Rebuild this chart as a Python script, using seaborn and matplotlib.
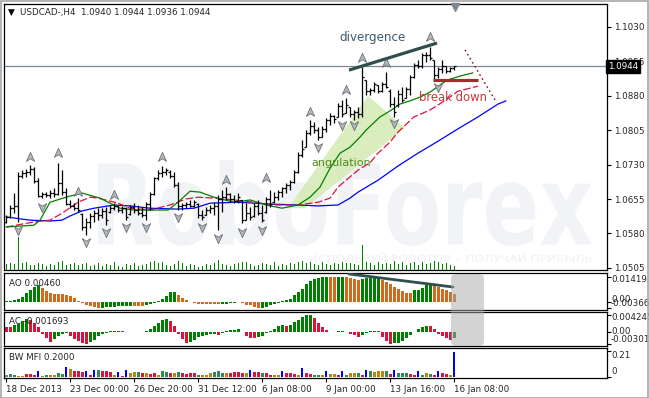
import numpy as np
import matplotlib
matplotlib.use("Agg")
import matplotlib.pyplot as plt
import seaborn as sns
from matplotlib.path import Path
from matplotlib.patches import Polygon, FancyBboxPatch, PathPatch, Rectangle
from matplotlib.textpath import TextPath
from matplotlib.font_manager import FontProperties
from matplotlib.transforms import Affine2D, blended_transform_factory

sns.set_style("white")
plt.rcParams['font.family'] = ['DejaVu Sans']

# ---------------- data (USDCAD H4) ----------------
open_ = [1.0605, 1.0615, 1.0635, 1.0640, 1.0705, 1.0712, 1.0715, 1.0720, 1.0695, 1.0662,
         1.0665, 1.0663, 1.0668, 1.0665, 1.0690, 1.0670, 1.0645, 1.0640, 1.0636, 1.0622,
         1.0595, 1.0605, 1.0618, 1.0625, 1.0620, 1.0628, 1.0626, 1.0636, 1.0640, 1.0632,
         1.0636, 1.0622, 1.0638, 1.0630, 1.0625, 1.0620, 1.0645, 1.0665, 1.0700, 1.0712,
         1.0715, 1.0715, 1.0705, 1.0685, 1.0640, 1.0642, 1.0645, 1.0640, 1.0645, 1.0620,
         1.0620, 1.0630, 1.0635, 1.0640, 1.0655, 1.0660, 1.0665, 1.0655, 1.0650, 1.0653,
         1.0610, 1.0625, 1.0618, 1.0640, 1.0625, 1.0626, 1.0655, 1.0648, 1.0660, 1.0670,
         1.0678, 1.0685, 1.0692, 1.0715, 1.0752, 1.0768, 1.0800, 1.0815, 1.0805, 1.0790,
         1.0808, 1.0828, 1.0835, 1.0834, 1.0858, 1.0843, 1.0856, 1.0840, 1.0845, 1.0840,
         1.0914, 1.0890, 1.0893, 1.0903, 1.0890, 1.0905, 1.0890, 1.0862, 1.0860, 1.0885,
         1.0875, 1.0895, 1.0920, 1.0948, 1.0945, 1.0968, 1.0970, 1.0958, 1.0925, 1.0938,
         1.0945, 1.0935, 1.0940]
high = [1.0620, 1.0642, 1.0668, 1.0714, 1.0718, 1.0721, 1.0729, 1.0725, 1.0701, 1.0670,
        1.0670, 1.0675, 1.0679, 1.0734, 1.0718, 1.0679, 1.0653, 1.0646, 1.0657, 1.0624,
        1.0614, 1.0624, 1.0631, 1.0635, 1.0635, 1.0638, 1.0642, 1.0646, 1.0642, 1.0640,
        1.0638, 1.0642, 1.0646, 1.0642, 1.0638, 1.0648, 1.0670, 1.0703, 1.0718, 1.0727,
        1.0723, 1.0718, 1.0714, 1.0692, 1.0646, 1.0648, 1.0653, 1.0653, 1.0646, 1.0631,
        1.0638, 1.0642, 1.0648, 1.0664, 1.0675, 1.0681, 1.0668, 1.0664, 1.0668, 1.0653,
        1.0646, 1.0638, 1.0646, 1.0653, 1.0642, 1.0659, 1.0675, 1.0670, 1.0675, 1.0681,
        1.0690, 1.0696, 1.0718, 1.0757, 1.0784, 1.0805, 1.0827, 1.0823, 1.0812, 1.0814,
        1.0832, 1.0843, 1.0838, 1.0864, 1.0871, 1.0875, 1.0856, 1.0849, 1.0856, 1.0943,
        1.0914, 1.0897, 1.0910, 1.0903, 1.0910, 1.0932, 1.0895, 1.0877, 1.0893, 1.0899,
        1.0899, 1.0925, 1.0952, 1.0958, 1.0973, 1.0975, 1.0986, 1.0958, 1.0943, 1.0958,
        1.0945, 1.0943, 1.0944]
low = [1.0603, 1.0614, 1.0624, 1.0605, 1.0701, 1.0703, 1.0707, 1.0690, 1.0659, 1.0657,
       1.0659, 1.0657, 1.0659, 1.0664, 1.0664, 1.0642, 1.0635, 1.0631, 1.0627, 1.0587,
       1.0577, 1.0592, 1.0605, 1.0609, 1.0614, 1.0598, 1.0624, 1.0631, 1.0627, 1.0624,
       1.0609, 1.0620, 1.0624, 1.0620, 1.0616, 1.0609, 1.0631, 1.0664, 1.0696, 1.0703,
       1.0707, 1.0701, 1.0681, 1.0631, 1.0631, 1.0635, 1.0638, 1.0638, 1.0614, 1.0609,
       1.0620, 1.0624, 1.0620, 1.0587, 1.0627, 1.0653, 1.0648, 1.0646, 1.0646, 1.0603,
       1.0609, 1.0609, 1.0616, 1.0620, 1.0605, 1.0624, 1.0638, 1.0646, 1.0653, 1.0659,
       1.0668, 1.0675, 1.0690, 1.0712, 1.0747, 1.0768, 1.0794, 1.0799, 1.0784, 1.0790,
       1.0801, 1.0816, 1.0821, 1.0834, 1.0834, 1.0843, 1.0834, 1.0827, 1.0832, 1.0834,
       1.0882, 1.0882, 1.0888, 1.0886, 1.0888, 1.0897, 1.0856, 1.0834, 1.0856, 1.0866,
       1.0875, 1.0882, 1.0919, 1.0941, 1.0941, 1.0954, 1.0958, 1.0914, 1.0919, 1.0930,
       1.0930, 1.0932, 1.0936]
close = [1.0615, 1.0635, 1.0640, 1.0705, 1.0712, 1.0715, 1.0720, 1.0695, 1.0662, 1.0665,
         1.0663, 1.0668, 1.0665, 1.0690, 1.0670, 1.0645, 1.0640, 1.0636, 1.0630, 1.0595,
         1.0605, 1.0618, 1.0625, 1.0620, 1.0628, 1.0610, 1.0636, 1.0640, 1.0632, 1.0636,
         1.0615, 1.0638, 1.0630, 1.0625, 1.0620, 1.0645, 1.0665, 1.0700, 1.0712, 1.0715,
         1.0718, 1.0705, 1.0685, 1.0640, 1.0642, 1.0645, 1.0640, 1.0648, 1.0620, 1.0615,
         1.0630, 1.0635, 1.0640, 1.0655, 1.0660, 1.0665, 1.0655, 1.0650, 1.0660, 1.0610,
         1.0625, 1.0615, 1.0640, 1.0625, 1.0610, 1.0655, 1.0645, 1.0660, 1.0670, 1.0678,
         1.0685, 1.0692, 1.0715, 1.0752, 1.0765, 1.0800, 1.0815, 1.0805, 1.0790, 1.0808,
         1.0828, 1.0835, 1.0830, 1.0858, 1.0840, 1.0860, 1.0840, 1.0845, 1.0840, 1.0920,
         1.0890, 1.0893, 1.0905, 1.0890, 1.0905, 1.0900, 1.0862, 1.0845, 1.0885, 1.0870,
         1.0895, 1.0920, 1.0948, 1.0945, 1.0968, 1.0970, 1.0962, 1.0925, 1.0938, 1.0945,
         1.0935, 1.0940, 1.0944]
volume = [600, 700, 600, 3300, 700, 800, 500, 500, 700, 600,
          400, 600, 500, 800, 900, 500, 600, 700, 500, 600,
          700, 400, 500, 700, 400, 600, 500, 800, 400, 300,
          600, 500, 700, 400, 500, 600, 800, 900, 700, 800,
          500, 400, 600, 900, 700, 400, 600, 500, 300, 400,
          600, 500, 700, 1000, 600, 500, 400, 600, 700, 800,
          800, 600, 400, 500, 700, 600, 500, 800, 400, 600,
          500, 700, 600, 800, 900, 700, 800, 600, 500, 800,
          600, 500, 700, 600, 800, 700, 700, 600, 500, 2500,
          800, 700, 500, 800, 600, 700, 600, 900, 600, 800,
          500, 700, 800, 500, 800, 600, 700, 900, 800, 600,
          700, 500, 400]

# Alligator lines (bar position, price)
jaw_x = [0, 6, 11, 14, 16, 19, 22, 27, 31, 36, 43, 47, 51, 58, 66, 73, 78, 83, 86, 88,
         93, 98, 103, 108, 113, 118, 123, 125]
jaw_y = [1.0616, 1.0609, 1.0607, 1.0609, 1.0618, 1.0629, 1.0635, 1.0642, 1.0640, 1.0635,
         1.0633, 1.0635, 1.0646, 1.0648, 1.0644, 1.0642, 1.0640, 1.0642, 1.0657, 1.0670,
         1.0696, 1.0727, 1.0755, 1.0781, 1.0808, 1.0834, 1.0862, 1.0869]
teeth_x = [0, 7, 11, 14, 18, 21, 23, 28, 31, 36, 41, 45, 48, 52, 57, 62, 67, 73, 78, 81,
           83, 88, 91, 93, 96, 98, 102, 106, 110, 113, 118]
teeth_y = [1.0594, 1.0605, 1.0609, 1.0624, 1.0648, 1.0659, 1.0657, 1.0646, 1.0635, 1.0631,
           1.0642, 1.0655, 1.0659, 1.0657, 1.0653, 1.0648, 1.0642, 1.0642, 1.0648, 1.0657,
           1.0681, 1.0718, 1.0734, 1.0755, 1.0779, 1.0801, 1.0834, 1.0849, 1.0871, 1.0890,
           1.0901]
lips_x = [0, 7, 8.5, 11, 15, 19, 23.5, 28.5, 32, 40.5, 43, 46, 48.5, 52, 57, 61, 65, 69, 73, 76,
          78.5, 81, 83.5, 86, 88.5, 90, 93.5, 96, 98.5, 101, 103.5, 106, 107.75, 110.25, 113.5, 116.75]
lips_y = [1.0594, 1.0598, 1.0609, 1.0648, 1.0659, 1.0668, 1.0657, 1.0635, 1.0631, 1.0631,
          1.0648, 1.0672, 1.0670, 1.0659, 1.0648, 1.0653, 1.0642, 1.0635, 1.0642, 1.0659,
          1.0681, 1.0722, 1.0755, 1.0768, 1.0790, 1.0805, 1.0834, 1.0847, 1.0862, 1.0869,
          1.0877, 1.0888, 1.0899, 1.0914, 1.0923, 1.0930]

# Fractals
up_idx = [6, 13, 18, 27, 39, 55, 65, 76, 85, 89, 95, 106]
up_level = [1.0747, 1.0755, 1.0670, 1.0664, 1.0747, 1.0696, 1.0701, 1.0845, 1.0893, 1.0962, 1.0952, 1.1008]
dn_idx = [3, 9, 20, 25, 30, 35, 43, 49, 53, 59, 64, 78, 84, 87, 97, 108]
dn_level = [1.0587, 1.0638, 1.0561, 1.0583, 1.0594, 1.0594, 1.0616, 1.0594, 1.0570, 1.0583,
            1.0587, 1.0768, 1.0816, 1.0816, 1.0821, 1.0899]

# Awesome Oscillator
ao = [0.0004, 0.0006, 0.0010, 0.0015, 0.0030, 0.0050, 0.0068, 0.0085, 0.0095, 0.0078,
      0.0060, 0.0050, 0.0045, 0.0044, 0.0044, 0.0040, 0.0033, 0.0024, 0.0008, -0.0006,
      -0.0015, -0.0024, -0.0031, -0.0035, -0.0032, -0.0029, -0.0028, -0.0027, -0.0025, -0.0024,
      -0.0023, -0.0022, -0.0023, -0.0024, -0.0024, -0.0019, -0.0013, -0.0006, 0.0005, 0.0019,
      0.0036, 0.0055, 0.0056, 0.0038, 0.0023, 0.0010, -0.0001, -0.0006, -0.0009, -0.0010,
      -0.0010, -0.0011, -0.0011, -0.0012, -0.0011, -0.0009, -0.0008, -0.0003, 0.0002, -0.0006,
      -0.0015, -0.0019, -0.0028, -0.00366, -0.0036, -0.0028, -0.0019, -0.0013, -0.0006, 0.0004,
      0.0009, 0.0019, 0.0038, 0.0057, 0.0076, 0.0100, 0.0119, 0.0132, 0.0138, 0.0140,
      0.0141, 0.0140, 0.0139, 0.0141, 0.01419, 0.0141, 0.0138, 0.0132, 0.0123, 0.0130,
      0.0135, 0.0136, 0.0137, 0.0138, 0.0127, 0.0113, 0.0100, 0.0085, 0.0076, 0.0062,
      0.0053, 0.0052, 0.0066, 0.0070, 0.0081, 0.0095, 0.0100, 0.0095, 0.0085, 0.0076,
      0.0066, 0.0057, 0.0046]
ao_dir = ("gggggggggo" "oooooooooo" "oooogggggg" "ggoooggggg" "gggooooooo"
          "oooogggggo" "oooogggggg" "gggggggggg" "googgoooog" "ggggoooooo"
          "oogggggooo" "ooo")

# Accelerator Oscillator
ac = [0.0011, 0.0011, 0.0016, 0.0020, 0.0028, 0.0033, 0.0030, 0.0023, 0.0012, -0.0005,
      -0.0015, -0.0025, -0.0018, -0.0012, -0.0006, -0.0004, -0.0010, -0.0018, -0.0024, -0.0028,
      -0.00301, -0.0026, -0.0020, -0.0012, -0.0005, -0.0003, 0.0002, 0.0003, 0.0001, 0.0001,
      -0.0001, -0.0001, -0.0001, -0.0001, -0.0002, 0.0003, 0.0008, 0.0015, 0.0022, 0.0030,
      0.0033, 0.0028, 0.0015, -0.0005, -0.0018, -0.0030, -0.0027, -0.0020, -0.0014, -0.0010,
      -0.0008, -0.0007, -0.0006, -0.0008, -0.0004, 0.0002, 0.0004, 0.0005, 0.0006, -0.0001,
      -0.0010, -0.0015, -0.0016, -0.0013, -0.0010, -0.0004, 0.0002, 0.0008, 0.0014, 0.0017,
      0.0014, 0.0017, 0.0025, 0.0031, 0.0038, 0.0042, 0.004245, 0.0034, 0.0021, 0.0011,
      0.0004, -0.0001, -0.0002, 0.0001, 0.0002, -0.0002, -0.0007, -0.0008, -0.0014, -0.0008,
      -0.0003, 0.0001, 0.0003, 0.0002, -0.0013, -0.0023, -0.00301, -0.0030, -0.0028, -0.0024,
      -0.0017, -0.0008, -0.0002, 0.0006, 0.0011, 0.0015, 0.0014, 0.0007, -0.0006, -0.0011,
      -0.0017, -0.0021, -0.001693]
ac_dir = ("rrggggrrrr" "rrggggrrrr" "rgggggggrr" "rrrrrggggg" "grrrrrgggg"
          "gggrgggggr" "rrrggggggg" "rggggggrrr" "rrrggrrrrg" "gggrrrrggg"
          "ggggggrrrr" "rrg")

# Bill Williams Market Facilitation Index
mfi = [0.020, 0.025, 0.015, 0.012, 0.012, 0.022, 0.022, 0.016, 0.050, 0.012,
       0.016, 0.014, 0.020, 0.030, 0.022, 0.080, 0.065, 0.045, 0.045, 0.040,
       0.050, 0.020, 0.060, 0.060, 0.045, 0.045, 0.040, 0.020, 0.040, 0.012,
       0.060, 0.030, 0.040, 0.040, 0.030, 0.030, 0.025, 0.030, 0.020, 0.050,
       0.040, 0.030, 0.030, 0.040, 0.030, 0.025, 0.030, 0.030, 0.020, 0.015,
       0.020, 0.030, 0.040, 0.050, 0.030, 0.030, 0.035, 0.040, 0.040, 0.035,
       0.030, 0.060, 0.040, 0.040, 0.030, 0.030, 0.020, 0.015, 0.020, 0.050,
       0.030, 0.030, 0.025, 0.020, 0.070, 0.030, 0.025, 0.020, 0.020, 0.020,
       0.050, 0.025, 0.025, 0.015, 0.050, 0.020, 0.030, 0.030, 0.035, 0.020,
       0.060, 0.050, 0.040, 0.050, 0.050, 0.045, 0.025, 0.060, 0.030, 0.030,
       0.030, 0.025, 0.020, 0.050, 0.020, 0.030, 0.025, 0.020, 0.050, 0.030,
       0.025, 0.015, 0.200]
mfi_kind = ("kggffsssbf" "gffggbfsss" "bsbgsssfbs" "bffgsfssfg" "gsfgssssgf"
            "ffgggfssss" "fbssgssffb" "sssfbssggf" "bffsbgffgs" "bgfffgsbgg"
            "gssbgfgsbs" "sfb")

price_ticks = [1.0505, 1.0580, 1.0655, 1.0730, 1.0805, 1.0880, 1.0955, 1.1030]
date_bars = [0, 16, 32, 48, 64, 80, 96, 112]
date_labels = ["18 Dec 2013", "23 Dec 00:00", "26 Dec 20:00", "31 Dec 12:00",
               "6 Jan 08:00", "9 Jan 00:00", "13 Jan 16:00", "16 Jan 08:00"]

# annotations (bar position, value)
div_x, div_y = [85.75, 107.75], [1.0936, 1.0995]
brk_x, brk_y = [106.75, 118.0], [1.0914, 1.0914]
dot_x, dot_y = [114.75, 122.25], [1.0980, 1.0871]
ao_div_x, ao_div_y = [85.75, 111.75], [0.0159, 0.0085]
ang_poly = [(70.5, 1.0635), (90.5, 1.0880), (99.75, 1.0810), (74.75, 1.0635)]

n = len(close)
for arr in (open_, high, low, volume, ao, ac, mfi):
    assert len(arr) == n
assert len(ao_dir) == n and len(ac_dir) == n and len(mfi_kind) == n
x = np.arange(n)

# ---------------- figure ----------------
W, H = 649, 398
fig = plt.figure(figsize=(W / 100, H / 100), dpi=100)
fig.patch.set_facecolor("white")
px = Affine2D().scale(1 / 100) + fig.dpi_scale_trans   # pixel coords (origin bottom-left)

def rect(l, t, r, b):
    return [l / W, 1 - b / H, (r - l) / W, (b - t) / H]

ax = fig.add_axes(rect(4, 4, 607, 270))
ax_ao = fig.add_axes(rect(4, 273, 607, 310))
ax_ac = fig.add_axes(rect(4, 312, 607, 346))
ax_mfi = fig.add_axes(rect(4, 348, 607, 378))
XL = (-0.5, 150.25)
FS = 6.3

# volume on a twin axis (created first, main axis ticks reset afterwards)
axv = ax.twinx()
axv.bar(x, volume, width=0.25, color="#008000", linewidth=0)
axv.set_ylim(0, 26600)
axv.set_yticks([])
axv.set_xlim(*XL)
for s in axv.spines.values():
    s.set_visible(False)

for a in (ax, ax_ao, ax_ac, ax_mfi):
    a.set_xlim(*XL)
    a.set_facecolor("white")
    for s in a.spines.values():
        s.set_color("black")
        s.set_linewidth(0.9)
    a.set_xticks([])
    a.yaxis.tick_right()
    a.yaxis.set_label_position("right")
    a.tick_params(axis="y", which="both", left=False, labelleft=False, right=True, labelright=True,
                  length=3, width=0.8, color="black", labelsize=FS, pad=2)

# watermark
def fitted_path(s, x0, x1, ytop, ybot, weight):
    tp = TextPath((0, 0), s, size=50, prop=FontProperties(family="DejaVu Sans", weight=weight))
    bb = tp.get_extents()
    tr = (Affine2D().translate(-bb.x0, -bb.y0)
          .scale((x1 - x0) / bb.width, (ybot - ytop) / bb.height)
          .translate(x0, H - ybot))
    return tr.transform_path(tp)

ax.add_patch(PathPatch(fitted_path("RoboForex", 98, 592, 160, 246, "bold"),
                       fc="#f1f3f7", ec="none", transform=px, zorder=0.3))
ax.add_patch(PathPatch(fitted_path("ИСПОЛЬЗУЙ РОБОТОВ – ПОЛУЧАЙ ПРИБЫЛЬ", 310, 592, 253, 262, "normal"),
                       fc="#eef1f5", ec="none", transform=px, zorder=0.3))

# angulation band
ax.add_patch(Polygon(ang_poly, closed=True, fc="#d6ebb8", ec="none", alpha=0.9, zorder=0.6))

# OHLC bars
ax.vlines(x, low, high, color="black", lw=0.9, zorder=3)
ax.hlines(open_, x - 0.45, x, color="black", lw=0.9, zorder=3)
ax.hlines(close, x, x + 0.45, color="black", lw=0.9, zorder=3)

# alligator
sns.lineplot(x=jaw_x, y=jaw_y, ax=ax, color="#0000ff", lw=0.9, zorder=2)
sns.lineplot(x=teeth_x, y=teeth_y, ax=ax, color="#e0103c", lw=0.9, zorder=2, linestyle=(0, (6, 2)))
sns.lineplot(x=lips_x, y=lips_y, ax=ax, color="#008000", lw=0.9, zorder=2)

# fractals
codes = [Path.MOVETO, Path.LINETO, Path.LINETO, Path.LINETO, Path.CLOSEPOLY]
up_m = Path([(0, 1), (0.8, -0.75), (0, -0.25), (-0.8, -0.75), (0, 1)], codes)
dn_m = Path([(0, -1), (0.8, 0.75), (0, 0.25), (-0.8, 0.75), (0, -1)], codes)
ax.scatter(up_idx, up_level, marker=up_m, s=55, fc="#b4b8bc", ec="#6c7278", lw=0.6, zorder=4)
ax.scatter(dn_idx, dn_level, marker=dn_m, s=55, fc="#b4b8bc", ec="#6c7278", lw=0.6, zorder=4)

# current price line and trend annotations
ax.axhline(close[-1], color="#7a8896", lw=0.9, zorder=1)
ax.plot(div_x, div_y, color="#2f4f4f", lw=2.3, solid_capstyle="butt", zorder=5)
ax.plot(brk_x, brk_y, color="#a52a2a", lw=2.3, solid_capstyle="butt", zorder=5)
ax.plot(dot_x, dot_y, color="#8b1010", lw=1.0, linestyle=(0, (1.2, 2.2)), zorder=5)
ax.text(91.5, 1.1006, "divergence", fontsize=8.6, color="#3b5870", ha="center", va="center", zorder=6)
ax.text(83.75, 1.0734, "angulation", fontsize=8.0, color="#4f8a1e", ha="center", va="center", zorder=6)
ax.text(111.75, 1.0877, "break down", fontsize=8.4, color="#c8383c", ha="center", va="center", zorder=6)

ax.set_ylim(1.05003, 1.10801)
ax.set_yticks(price_ticks)
ax.set_yticklabels([f"{v:.4f}" for v in price_ticks])
ax.set_xlabel("")
ax.set_ylabel("")
ax.text(1.0016, close[-1], f"{close[-1]:.4f}", transform=blended_transform_factory(ax.transAxes, ax.transData),
        color="white", fontsize=FS, ha="left", va="center", clip_on=False, zorder=10,
        bbox=dict(boxstyle="square,pad=0.22", fc="black", ec="black"))
ax.plot([112.25], [0.988], transform=blended_transform_factory(ax.transData, ax.transAxes),
        marker="v", ms=5.5, color="#7d8893", clip_on=False, zorder=10)

# AO
ao_cmap = {"g": "#008000", "o": "#d2691e"}
ax_ao.bar(x, ao, width=0.75, color=[ao_cmap[c] for c in ao_dir], linewidth=0)
ax_ao.plot(ao_div_x, ao_div_y, color="#2f4f4f", lw=2.0, zorder=5)
ax_ao.set_ylim(-0.00454, 0.01645)
ax_ao.set_yticks([0.01419, 0.0, -0.00366])
ax_ao.set_yticklabels([])

# AC
ac_cmap = {"g": "#008000", "r": "#dc143c"}
ax_ac.bar(x, ac, width=0.75, color=[ac_cmap[c] for c in ac_dir], linewidth=0)
ax_ac.set_ylim(-0.00364, 0.00501)
ax_ac.set_yticks([0.004245, 0.0, -0.00301])
ax_ac.set_yticklabels([])

# MFI
mfi_cmap = {"g": "#2e8b57", "f": "#b8860b", "s": "#dc143c", "b": "#0000ff", "k": "#808080"}
ax_mfi.bar(x, mfi, width=[0.3 if k == "b" else 0.75 for k in mfi_kind],
           color=[mfi_cmap[k] for k in mfi_kind], linewidth=0)
ax_mfi.set_ylim(-0.008, 0.232)
ax_mfi.set_yticks([0.21, 0.0])
ax_mfi.set_yticklabels([])
ax_mfi.set_xticks(date_bars)
ax_mfi.set_xticklabels(date_labels, ha="left", fontsize=FS)
ax_mfi.tick_params(axis="x", length=3, width=0.8, color="black", pad=2, bottom=True)

# panel titles
def ptxt(xp, yp, s, **kw):
    fig.text(xp / W, 1 - yp / H, s, fontsize=FS, va="center", ha="left", zorder=20, **kw)

ptxt(8, 12, "▼", color="black")
ptxt(20, 12, "USDCAD-,H4  1.0940 1.0944 1.0936 1.0944")
ptxt(9, 283, "AO 0.00460")
ptxt(9, 322, "AC -0.001693")
ptxt(9, 357, "BW MFI 0.2000")
for yy, s in [(280, "0.01419"), (300, "0.00"), (304, "-0.00366"),
              (318, "0.004245"), (331, "0.00"), (340, "-0.00301"),
              (355, "0.21"), (372, "0")]:
    ptxt(611, yy, s)

# gray overlay and outer border
fig.add_artist(FancyBboxPatch((451, H - 346), 33, 72, boxstyle="round,pad=0,rounding_size=5",
                              fc="#a9a9a9", ec="none", alpha=0.5, transform=px, zorder=30))
fig.add_artist(Rectangle((0.5, 0.5), W - 1.5, H - 1.5, fill=False, ec="#a8a8a8", lw=1.2,
                         transform=px, zorder=40))

fig.savefig("out.png", dpi=100)
